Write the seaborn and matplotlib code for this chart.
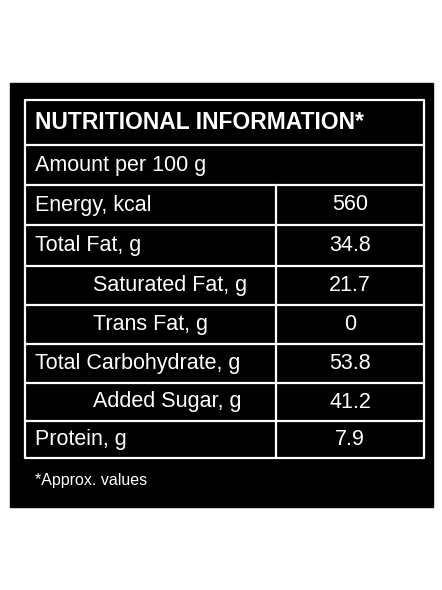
import matplotlib.pyplot as plt
import seaborn as sns

title = "NUTRITIONAL INFORMATION*"
subtitle = "Amount per 100 g"
nutrients = ["Energy, kcal", "Total Fat, g", "Saturated Fat, g", "Trans Fat, g",
             "Total Carbohydrate, g", "Added Sugar, g", "Protein, g"]
values = ["560", "34.8", "21.7", "0", "53.8", "41.2", "7.9"]
indented = [False, False, True, True, False, True, False]
footnote = "*Approx. values"

sns.set_theme(style="white")
plt.rcParams['font.family'] = ['Liberation Sans', 'DejaVu Sans']

fig = plt.figure(figsize=(4.42, 5.9), dpi=100)
ax = fig.add_axes([0, 0, 1, 1])
ax.set_xlim(0, 442)
ax.set_ylim(590, 0)
ax.axis("off")

# black panel
ax.add_patch(plt.Rectangle((10, 83), 423, 424, color="black"))

left, right, mid = 25, 424, 276
rows = [100, 145, 185, 225, 266, 305, 344, 383, 421, 458]
lw = 1.6
ax.plot([left, right, right, left, left], [rows[0], rows[0], rows[-1], rows[-1], rows[0]],
        color="white", lw=lw)
for y in rows[1:-1]:
    ax.plot([left, right], [y, y], color="white", lw=lw)
ax.plot([mid, mid], [rows[2], rows[-1]], color="white", lw=lw)

ax.text(35, (rows[0] + rows[1]) / 2, title, color="white", fontsize=16.5,
        fontweight="bold", va="center", ha="left")
ax.text(35, (rows[1] + rows[2]) / 2, subtitle, color="white", fontsize=15.5,
        va="center", ha="left")
for i, (name, val) in enumerate(zip(nutrients, values)):
    yc = (rows[i + 2] + rows[i + 3]) / 2
    x = 93 if indented[i] else 35
    ax.text(x, yc, name, color="white", fontsize=15.5, va="center", ha="left")
    ax.text((mid + right) / 2, yc, val, color="white", fontsize=15.5,
            va="center", ha="center")

ax.text(35, 480, footnote, color="white", fontsize=11.5, va="center", ha="left")

fig.savefig("out.png", dpi=100, facecolor="white")
